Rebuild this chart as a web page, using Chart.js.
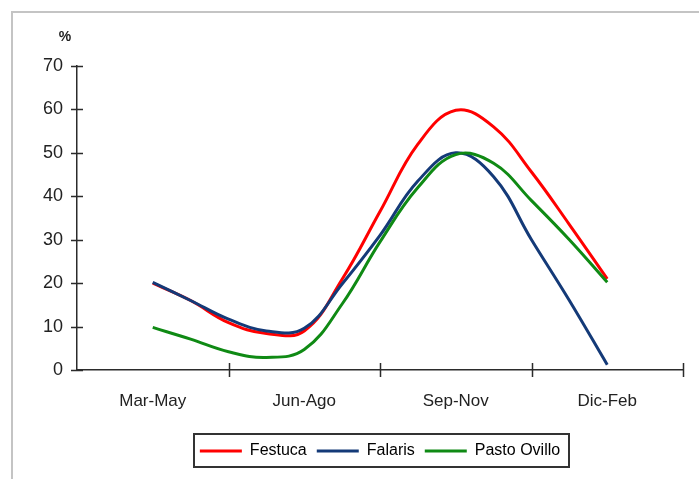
<!DOCTYPE html>
<html>
<head>
<meta charset="utf-8">
<script src="https://cdn.jsdelivr.net/npm/chart.js@4/dist/chart.umd.min.js"></script>
<style>
  html, body { margin: 0; padding: 0; background: #fff; }
  #wrap { position: relative; width: 699px; height: 479px; overflow: hidden; }
  #frame { position: absolute; left: 11px; top: 11px; width: 720px; height: 500px;
           border-left: 2px solid #c4c4c4; border-top: 2px solid #c4c4c4; }
  canvas { position: absolute; left: 0; top: 0; }
</style>
</head>
<body>
<div id="wrap">
  <div id="frame"></div>
  <canvas id="c" width="699" height="479"></canvas>
</div>
<script>
// Seasons shown on the horizontal axis
const seasons = ['Mar-May', 'Jun-Ago', 'Sep-Nov', 'Dic-Feb'];
// Sample positions along the season axis (0 = Mar-May ... 3 = Dic-Feb)
const samplePos = [0, 0.25, 0.5, 0.75, 1, 1.25, 1.5, 1.75, 2, 2.25, 2.5, 2.75, 3];
// Growth share (%) per species
const festuca     = [20, 16, 10.9, 8.4, 9.0, 20.9, 36.5, 52, 59.8, 56, 45.6, 33.5, 21];
const falaris     = [20.2, 16, 11.7, 9, 9.6, 19.8, 31, 43.5, 50, 44.5, 30, 16, 1.2];
const pastoOvillo = [9.8, 7.1, 4.2, 2.9, 4.7, 15.2, 29.5, 42, 49.6, 47.6, 39, 30, 20.2];
// Value axis ticks
const yTicks = [0, 10, 20, 30, 40, 50, 60, 70];

const FONT = '"Liberation Sans", Arial, sans-serif';
const AXIS = '#2b2b2b';

const toPoints = vals => samplePos.map((x, i) => ({ x, y: vals[i] }));

// Tick marks crossing the axis lines, plus the "%" unit label and legend frame
const axisDecor = {
  id: 'axisDecor',
  afterDraw(chart) {
    const { ctx, chartArea, scales } = chart;
    const xs = scales.x, ys = scales.y;
    ctx.save();
    ctx.strokeStyle = AXIS;
    ctx.lineWidth = 1.5;
    ctx.beginPath();
    yTicks.forEach(v => {
      const py = Math.round(ys.getPixelForValue(v)) + 0.5;
      ctx.moveTo(chartArea.left - 6, py);
      ctx.lineTo(chartArea.left + 6, py);
    });
    for (let b = 1; b <= seasons.length; b++) {
      const px = Math.round(xs.getPixelForValue(b - 0.5)) + 0.5;
      ctx.moveTo(px, chartArea.bottom - 7);
      ctx.lineTo(px, chartArea.bottom + 7);
    }
    ctx.stroke();

    ctx.fillStyle = '#222';
    ctx.font = 'bold 14px ' + FONT;
    ctx.textAlign = 'center';
    ctx.textBaseline = 'middle';
    ctx.fillText('%', chartArea.left - 12, chartArea.top - 29);

    const hb = chart.legend.legendHitBoxes;
    if (hb && hb.length) {
      const first = hb[0], last = hb[hb.length - 1];
      const l = first.left - 6, r = last.left + last.width + 9;
      const t = first.top - 9, btm = first.top + first.height + 8;
      ctx.strokeStyle = '#333';
      ctx.lineWidth = 2;
      ctx.strokeRect(Math.round(l), Math.round(t), Math.round(r - l), Math.round(btm - t));
    }
    ctx.restore();
  }
};

new Chart(document.getElementById('c'), {
  type: 'line',
  data: {
    datasets: [
      { label: 'Festuca', data: toPoints(festuca), borderColor: '#ff0000', backgroundColor: '#ff0000', order: 3 },
      { label: 'Falaris', data: toPoints(falaris), borderColor: '#143a78', backgroundColor: '#143a78', order: 2 },
      { label: 'Pasto Ovillo', data: toPoints(pastoOvillo), borderColor: '#0f8a14', backgroundColor: '#0f8a14', order: 1 }
    ]
  },
  options: {
    responsive: false,
    animation: false,
    devicePixelRatio: 1,
    layout: { padding: { top: 66, left: 30, right: 16, bottom: 10 } },
    elements: {
      line: { borderWidth: 3, tension: 0.4, fill: false },
      point: { radius: 0, hoverRadius: 0 }
    },
    scales: {
      x: {
        type: 'linear',
        min: -0.5,
        max: seasons.length - 0.5,
        afterBuildTicks(scale) {
          scale.ticks = seasons.map((s, i) => ({ value: i }));
        },
        afterFit(scale) { scale.height = 63; },
        grid: { drawOnChartArea: false, drawTicks: false },
        border: { display: true, color: AXIS, width: 1.5 },
        ticks: {
          padding: 21,
          autoSkip: false,
          maxRotation: 0,
          color: '#222',
          font: { family: FONT, size: 17 },
          callback: v => seasons[Math.round(v)]
        }
      },
      y: {
        min: 0,
        max: 70,
        afterBuildTicks(scale) {
          scale.ticks = yTicks.map(v => ({ value: v }));
        },
        afterFit(scale) { scale.width = 47; },
        grid: { drawOnChartArea: false, drawTicks: false },
        border: { display: true, color: AXIS, width: 1.5 },
        ticks: {
          padding: 14,
          color: '#222',
          font: { family: FONT, size: 18 }
        }
      }
    },
    plugins: {
      legend: {
        position: 'bottom',
        fullSize: false,
        labels: {
          boxWidth: 42,
          boxHeight: 3,
          padding: 10,
          color: '#111',
          font: { family: FONT, size: 16 },
          generateLabels(chart) {
            return chart.data.datasets.map((d, i) => ({
              text: d.label,
              fillStyle: d.borderColor,
              strokeStyle: d.borderColor,
              lineWidth: 0,
              datasetIndex: i,
              hidden: false
            }));
          }
        }
      },
      tooltip: { enabled: false }
    }
  },
  plugins: [axisDecor]
});
</script>
</body>
</html>
